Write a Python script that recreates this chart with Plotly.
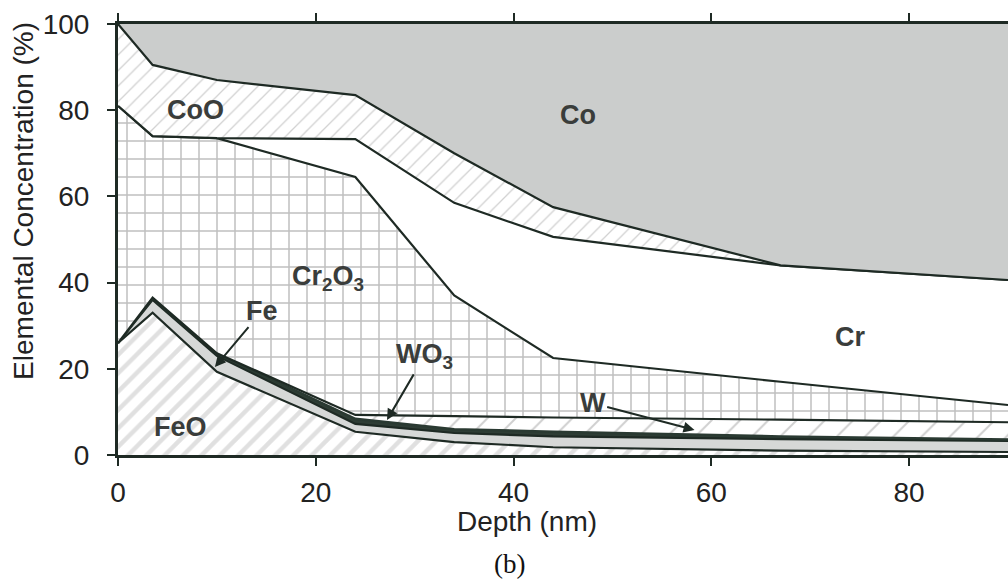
import plotly.graph_objects as go

# Depth profile (nm) and layer thicknesses (% of total), bottom to top
depth = [0, 3.5, 10, 24, 34, 44, 67, 90]
feo = [26, 33, 19.3, 5.4, 3.0, 1.8, 1.0, 0.7]
fe = [0, 3.0, 3.7, 1.8, 2.1, 2.5, 2.7, 2.6]
wo3 = [0, 0.5, 0.6, 1.2, 0.9, 1.1, 0.6, 0.3]
w = [0, 0, 0, 0.9, 3.0, 3.3, 3.9, 4.0]
cr2o3 = [55, 37.5, 49.9, 55.2, 28, 13.8, 8.8, 4.0]
cr = [0, 0, 0, 8.8, 21.5, 28.1, 27, 29]
coo = [19, 16.5, 13.5, 10.2, 11.5, 6.9, 0, 0]
co = [0, 9.5, 13, 16.5, 30, 42.5, 56, 59.4]

x_ticks = [0, 20, 40, 60, 80]
y_ticks = [0, 20, 40, 60, 80, 100]

EDGE = "#1e2a24"
SANS = "Liberation Sans, Arial, sans-serif"

fig = go.Figure()


def layer(name, vals, fillcolor="white", pattern=None, lw=2.2, lc=EDGE):
    kw = dict(
        x=depth, y=vals, name=name, mode="lines", stackgroup="s",
        line=dict(color=lc, width=lw, shape="linear"),
        fillcolor=fillcolor, hoverinfo="skip",
    )
    if pattern:
        kw["fillpattern"] = pattern
    fig.add_trace(go.Scatter(**kw))


layer("FeO", feo, pattern=dict(shape="/", fgcolor="#c2c2c2", bgcolor="white",
                               size=13, solidity=0.34))
layer("Fe", fe, fillcolor="#d6d8d7")
layer("WO3", wo3, fillcolor="#2e3d35", lc="#2a3a32", lw=2.5)
layer("W", w, pattern=dict(shape="/", fgcolor="#a0a0a0", bgcolor="white",
                           size=20, solidity=0.1))
layer("Cr2O3", cr2o3, pattern=dict(shape="+", fgcolor="#808080", bgcolor="white",
                                   size=18, solidity=0.16))
layer("Cr", cr, fillcolor="white")
layer("CoO", coo, pattern=dict(shape="/", fgcolor="#a4a4a4", bgcolor="white",
                               size=11, solidity=0.12))
layer("Co", co, fillcolor="#cbcdcc", lw=0)

lab_font = dict(family=SANS, size=27, color="#3a3d3b")

labels = [
    (7.8, 80, "<b>CoO</b>"),
    (46.5, 79, "<b>Co</b>"),
    (21.2, 41, "<b>Cr<sub>2</sub>O<sub>3</sub></b>"),
    (74, 27.4, "<b>Cr</b>"),
    (6.3, 6.5, "<b>FeO</b>"),
]
for xx, yy, tt in labels:
    fig.add_annotation(x=xx, y=yy, text=tt, showarrow=False, font=lab_font)

# Labels with pointer arrows: (text, label x, label y, tip x, tip y)
arrows = [
    ("<b>Fe</b>", 14.6, 33.5, 9.8, 20.4),
    ("<b>WO<sub>3</sub></b>", 31.0, 23.0, 27.2, 8.1),
    ("<b>W</b>", 48.0, 12.0, 58.3, 5.8),
]
for tt, tx, ty, hx, hy in arrows:
    fig.add_annotation(x=hx, y=hy, ax=tx, ay=ty, axref="x", ayref="y",
                       text=tt, font=lab_font, showarrow=True, arrowhead=2,
                       arrowsize=1.1, arrowwidth=2, arrowcolor=EDGE, standoff=0)

axis_font = dict(family=SANS, size=28, color="#222222")
title_font = dict(family=SANS, size=28, color="#222222")

fig.add_annotation(x=41.4, y=-0.155, xref="x", yref="paper", text="Depth (nm)",
                   xanchor="center", yanchor="middle",
                   showarrow=False, font=title_font)
fig.add_annotation(x=-0.107, y=0.589, xref="paper", yref="paper",
                   text="Elemental Concentration (%)", textangle=-90,
                   xanchor="center", yanchor="middle",
                   showarrow=False, font=title_font)
fig.add_annotation(x=39.6, y=-0.252, xref="x", yref="paper", text="(b)",
                   xanchor="center", yanchor="middle", showarrow=False,
                   font=dict(family="Liberation Serif, Times New Roman, serif",
                             size=27, color="#111111"))

fig.update_xaxes(range=[0, 90], tickvals=x_ticks, ticks="outside", ticklen=8,
                 tickwidth=2, tickcolor=EDGE, showline=True, linecolor=EDGE,
                 linewidth=3, mirror="ticks", showgrid=False, zeroline=False,
                 tickfont=axis_font, ticklabelstandoff=2)
fig.update_yaxes(range=[0, 100], tickvals=y_ticks, ticks="outside", ticklen=8,
                 tickwidth=2, tickcolor=EDGE, showline=True, linecolor=EDGE,
                 linewidth=3, showgrid=False, zeroline=False, tickfont=axis_font,
                 ticklabelstandoff=12)

fig.update_layout(
    width=1008, height=582,
    margin=dict(l=118, r=0, t=24, b=127),
    paper_bgcolor="white", plot_bgcolor="white",
    showlegend=False,
)

fig.write_html("out.html")
